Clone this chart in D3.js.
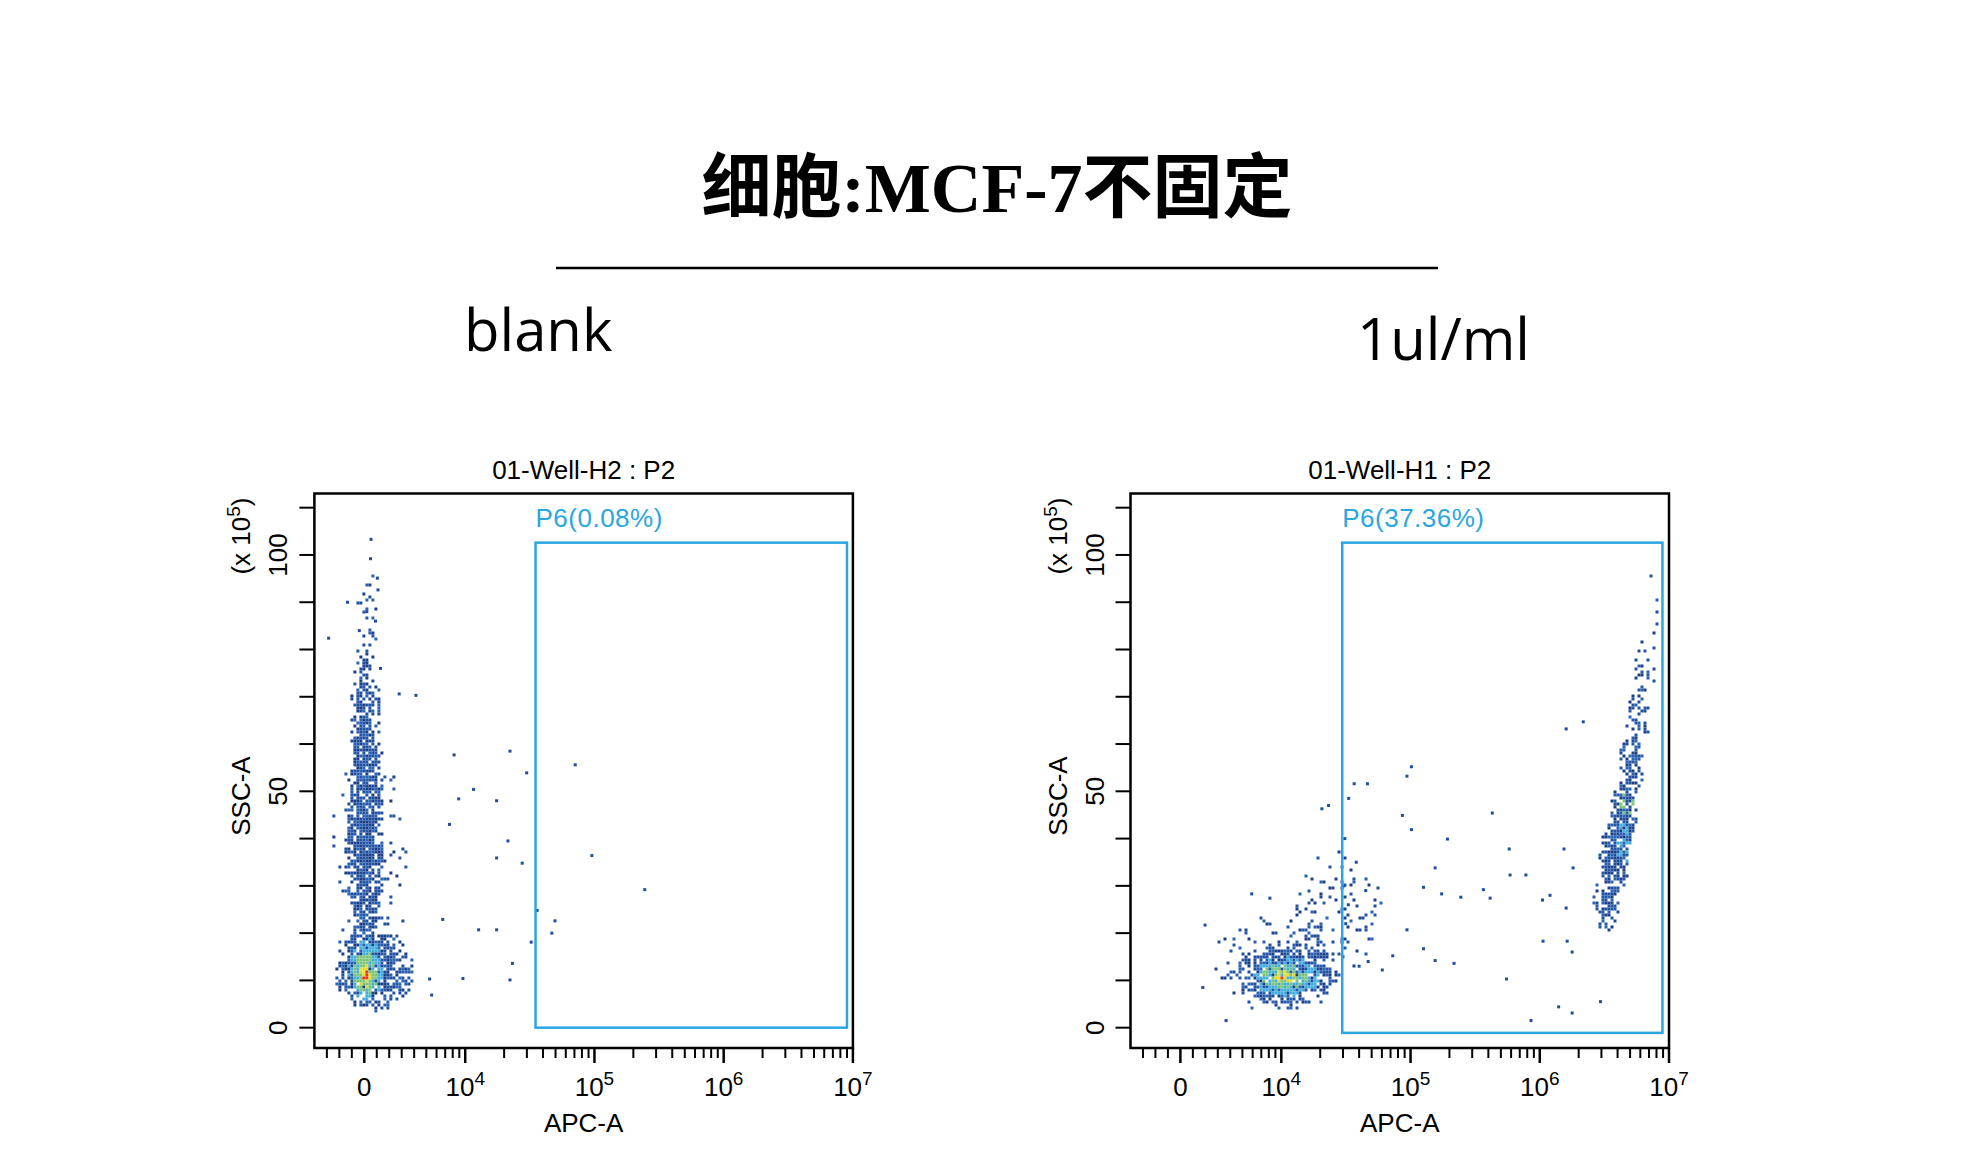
<!DOCTYPE html>
<html><head><meta charset="utf-8">
<script src="https://cdn.jsdelivr.net/npm/d3@7"></script>
<style>body{margin:0;background:#fff}</style></head>
<body><svg id="c" width="1978" height="1160"></svg>
<script>
// ---------- data ----------
const mainTitle = "细胞:MCF-7不固定";
const panelLabels = ["blank", "1ul/ml"];
const plotTitles = ["01-Well-H2 : P2", "01-Well-H1 : P2"];
const gateLabels = ["P6(0.08%)", "P6(37.36%)"];
const xTickLabels = [["0",null],["10",4],["10",5],["10",6],["10",7]];
const xTickValues = [0, 1e4, 1e5, 1e6, 1e7];
const yTickValues = [0, 50, 100];
// gates [xLo, xHi, yLo, yHi]
const gates = [[35000, 9.0e6, 0, 102.6], [29600, 8.9e6, -1.1, 102.6]];
// density ellipses: [xLo, xHi, yLo, yHi, fill, level]
const blankBlobs = [
  [-3000, 3500, 2, 62, 0.10, 0],
  [-2400, 4000, 3.5, 21, 0.8, 0],
  [-1400, 1600, 14, 66, 0.88, 0],
  [-1100, 1400, 50, 80, 0.6, 0],
  [-700, 1100, 70, 98, 0.2, 0],
  [-1300, 1600, 5.5, 19, 0.95, 1],
  [-900, 1100, 7, 16, 0.95, 2],
  [-450, 650, 8.5, 13.5, 0.9, 3],
  [-150, 300, 9.8, 12.4, 0.9, 4]
];
const treatedBlobs = [
  [2500, 32000, 3, 24, 0.14, 0],
  [12000, 60000, 12, 38, 0.12, 0],
  [4500, 28000, 4.5, 18, 0.85, 0],
  [5800, 20000, 6.5, 15, 0.8, 1],
  [7000, 16000, 8, 13.5, 0.7, 2],
  [8500, 13000, 9.5, 12, 0.6, 3],
  [9500, 11000, 10, 11.2, 0.5, 4],
  [2.5e6, 4.2e6, 20, 32, 0.6, 0],
  [2.9e6, 5.0e6, 28, 44, 0.85, 0],
  [3.5e6, 5.6e6, 38, 52, 0.75, 0],
  [4.1e6, 6.4e6, 48, 62, 0.6, 0],
  [4.7e6, 7.2e6, 58, 72, 0.45, 0],
  [5.4e6, 8.0e6, 68, 82, 0.28, 0],
  [6.3e6, 9.0e6, 78, 96, 0.12, 0],
  [3.8e6, 5.0e6, 34, 44, 0.45, 1],
  [4.2e6, 5.3e6, 44, 52, 0.35, 2]
];
// isolated events [APC, SSC]
const blankPoints = [[8200,57.7],[22200,58.5],[29900,53.9],[71000,55.6],[8900,48.4],[11600,50.4],[17500,48],[7550,43],[21400,39.5],[17500,35.9],[27600,34.8],[95500,36.4],[245000,29.2],[36000,24.8],[49500,22.6],[46800,20],[12700,20.7],[17500,20.7],[6700,22.9],[32400,18.1],[23200,13.6],[22200,10.1],[9600,10.4],[5300,10.3],[5500,6.9],[4140,70.3],[2800,70.6],[540,103.3],[500,99.2],[1050,95.1],[1100,92.6],[-1350,90],[-2860,82.4],[200,88],[900,86],[-400,84],[1300,76]];
const treatedPoints = [[20600,46.3],[23200,47],[33200,48.5],[36600,51.6],[46400,51.6],[93800,53.2],[101600,55.2],[86500,44.9],[101600,41.9],[193000,39.9],[429000,45.4],[580000,37.8],[589000,32.3],[781000,32.3],[1.6e6,63.2],[2.17e6,64.7],[1.54e6,37.8],[1.81e6,33.8],[1.2e6,28],[1.05e6,27],[155000,33.8],[126000,29.7],[174000,28.3],[245000,27.6],[366000,29.2],[413000,27.4],[93800,20.7],[126000,16.7],[155000,14.2],[217000,13.6],[72800,15.2],[60400,12.2],[47000,14],[40000,13],[553000,10.3],[1.06e6,18.3],[1.63e6,18.3],[1.78e6,16],[855000,1.5],[1.4e6,4.4],[1.78e6,3.1],[2.95e6,5.5],[1.6e6,25.3],[1980,21.7],[1800,8.5],[3660,1.5],[5900,28.3],[8160,27.4],[31000,40],[30500,30],[31500,22],[30000,15],[33000,26],[38000,35],[45000,29]];

// ---------- scales ----------
const T = 4500, L10 = Math.LN10;
const tx = v => v >= T ? Math.log10(v) : Math.log10(T) + (v - T) / (T * L10);
const svg = d3.select("#c");
const F = "'Liberation Sans', Arial, sans-serif";

svg.append("text").attr("x", 997).attr("y", 212).attr("text-anchor", "middle")
  .style("font-family", "'Liberation Serif','Noto Sans CJK SC',serif").style("font-weight", "bold")
  .style("font-size", "70px").text(mainTitle);
svg.append("line").attr("x1", 556).attr("x2", 1438).attr("y1", 268).attr("y2", 268)
  .attr("stroke", "#000").attr("stroke-width", 2.5);
svg.append("text").attr("x", 464).attr("y", 351).style("font-family", "'Open Sans',sans-serif")
  .style("font-size", "58px").text(panelLabels[0]);
svg.append("text").attr("x", 1357).attr("y", 360).style("font-family", "'Open Sans',sans-serif")
  .style("font-size", "58px").text(panelLabels[1]);

const panels = [
  {left: 314.4, blobs: blankBlobs, pts: blankPoints},
  {left: 1130.5, blobs: treatedBlobs, pts: treatedPoints}
];
const pTop = 493.5, pBottom = 1048, W = 538.5;
const colors = ["#1f4e9e", "#41aee0", "#7cc576", "#e6dc2c", "#ee3124"];
const blues = ["#1f4e9e", "#2457a8", "#1c3f8a", "#2a62b4"];
function hash(a, b, c) { const s = Math.sin(a * 12.9898 + b * 78.233 + c * 37.719) * 43758.5453; return s - Math.floor(s); }

panels.forEach((p, k) => {
  const g = svg.append("g");
  const xs = d3.scaleLinear().domain([tx(-4000), 7]).range([p.left, p.left + W]);
  const ys = d3.scaleLinear().domain([-4.3, 113]).range([pBottom, pTop]);
  const X = v => xs(tx(v));
  const step = 3;
  const dots = [];
  for (let px = p.left + 3; px < p.left + W - 3; px += step) {
    for (let py = pTop + 3; py < pBottom - 3; py += step) {
      const tv = xs.invert(px + 1.5), yv = ys.invert(py + 1.5);
      let lvl = -1;
      p.blobs.forEach((b, bi) => {
        const t0 = tx(b[0]), t1 = tx(b[1]);
        const cx = (t0 + t1) / 2, rx = (t1 - t0) / 2, cy = (b[2] + b[3]) / 2, ry = (b[3] - b[2]) / 2;
        const r2 = ((tv - cx) / rx) ** 2 + ((yv - cy) / ry) ** 2;
        if (r2 < 1) {
          const prob = b[4] * (1 - 0.6 * r2);
          if (hash(px, py, bi + k * 20) < prob) lvl = Math.max(lvl, b[5]);
        }
      });
      if (lvl >= 0) dots.push([px, py, lvl]);
    }
  }
  g.selectAll("rect.d").data(dots).join("rect").attr("x", d => d[0]).attr("y", d => d[1])
    .attr("width", step).attr("height", step)
    .attr("fill", d => d[2] === 0 ? blues[Math.floor(hash(d[0], d[1], 99) * 4)] : colors[d[2]]);
  g.selectAll("rect.p").data(p.pts).join("rect").attr("x", d => X(d[0]) - 1.5).attr("y", d => ys(d[1]) - 1.5)
    .attr("width", 3).attr("height", 3).attr("fill", "#1f4e9e");
  const gt = gates[k];
  g.append("rect").attr("x", X(gt[0])).attr("y", ys(gt[3])).attr("width", X(gt[1]) - X(gt[0]))
    .attr("height", ys(gt[2]) - ys(gt[3])).attr("fill", "none").attr("stroke", "#2aa6e0").attr("stroke-width", 2.5);
  g.append("text").attr("x", X(gt[0])).attr("y", ys(gt[3]) - 16).style("font-family", F)
    .style("font-size", "26px").attr("fill", "#2aa6e0").style("letter-spacing", "0.5px").text(gateLabels[k]);
  g.append("rect").attr("x", p.left).attr("y", pTop).attr("width", W).attr("height", pBottom - pTop)
    .attr("fill", "none").attr("stroke", "#000").attr("stroke-width", 2.5);
  g.append("text").attr("x", p.left + W / 2).attr("y", 479).attr("text-anchor", "middle")
    .style("font-family", F).style("font-size", "26px").text(plotTitles[k]);
  d3.range(0, 111, 10).forEach(v => g.append("line").attr("x1", p.left - 15).attr("x2", p.left)
    .attr("y1", ys(v)).attr("y2", ys(v)).attr("stroke", "#000").attr("stroke-width", 2));
  yTickValues.forEach(v => g.append("text").attr("transform", `translate(${p.left - 27},${ys(v)}) rotate(-90)`)
    .attr("text-anchor", "middle").style("font-family", F).style("font-size", "26px").text(v));
  g.append("text").attr("transform", `translate(${p.left - 64},${ys(49)}) rotate(-90)`)
    .attr("text-anchor", "middle").style("font-family", F).style("font-size", "26px").text("SSC-A");
  const yl = g.append("text").attr("transform", `translate(${p.left - 64},${ys(104)}) rotate(-90)`)
    .attr("text-anchor", "middle").style("font-family", F).style("font-size", "26px");
  yl.append("tspan").text("(x 10");
  yl.append("tspan").attr("dy", -10).style("font-size", "19px").text("5");
  yl.append("tspan").attr("dy", 10).text(")");
  const minor = d3.range(-3000, 10000, 1000).filter(v => v !== 0);
  [4, 5, 6].forEach(e => d3.range(2, 10).forEach(m => minor.push(m * Math.pow(10, e))));
  minor.forEach(v => g.append("line").attr("x1", X(v)).attr("x2", X(v)).attr("y1", pBottom).attr("y2", pBottom + 10)
    .attr("stroke", "#000").attr("stroke-width", 2));
  xTickValues.forEach((v, i) => {
    g.append("line").attr("x1", X(v)).attr("x2", X(v)).attr("y1", pBottom).attr("y2", pBottom + 15)
      .attr("stroke", "#000").attr("stroke-width", 2.5);
    const t = g.append("text").attr("x", X(v)).attr("y", 1096).attr("text-anchor", "middle")
      .style("font-family", F).style("font-size", "26px");
    t.append("tspan").text(xTickLabels[i][0]);
    if (xTickLabels[i][1] !== null) t.append("tspan").attr("dy", -11).style("font-size", "19px").text(xTickLabels[i][1]);
  });
  g.append("text").attr("x", p.left + W / 2).attr("y", 1132).attr("text-anchor", "middle")
    .style("font-family", F).style("font-size", "26px").text("APC-A");
});
</script></body></html>
